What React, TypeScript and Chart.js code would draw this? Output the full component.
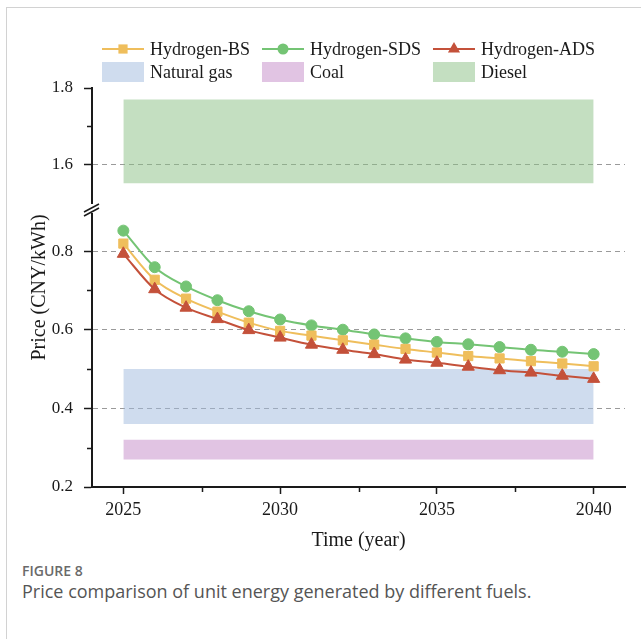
import React, { useEffect, useRef } from 'react';
import Chart from 'chart.js/auto';

// Years on the horizontal axis
const years = [2025, 2026, 2027, 2028, 2029, 2030, 2031, 2032, 2033, 2034, 2035, 2036, 2037, 2038, 2039, 2040];

// Hydrogen price scenarios (CNY/kWh)
const hydrogenBS = [0.819, 0.727, 0.679, 0.646, 0.618, 0.597, 0.585, 0.573, 0.562, 0.551, 0.542, 0.533, 0.527, 0.52, 0.514, 0.507];
const hydrogenSDS = [0.852, 0.759, 0.71, 0.675, 0.647, 0.626, 0.611, 0.6, 0.588, 0.578, 0.569, 0.563, 0.556, 0.549, 0.544, 0.538];
const hydrogenADS = [0.793, 0.703, 0.656, 0.627, 0.599, 0.58, 0.562, 0.549, 0.538, 0.524, 0.516, 0.506, 0.497, 0.491, 0.483, 0.475];

// Price ranges of conventional fuels: [low, high]
const bandYears = [2025, 2040];
const naturalGas = [0.36, 0.5];
const coal = [0.27, 0.32];
const diesel = [1.55, 1.77];

// Axis ranges and ticks (broken y axis: lower and upper segment)
const yearRange = [2024, 2041];
const yearTicks = [2025, 2030, 2035, 2040];
const yearMinorTicks = [2027.5, 2032.5, 2037.5];
const lowerRange = [0.2, 0.907];
const lowerTicks = [0.2, 0.4, 0.6, 0.8];
const lowerMinorTicks = [0.3, 0.5, 0.7];
const upperRange = [1.482, 1.8];
const upperTicks = [1.6, 1.8];
const upperMinorTicks = [1.7];

const SERIF = '"Liberation Serif", "Times New Roman", serif';
const INK = '#1a1a1a';
const C = {
  bs: '#efbe5c',
  sds: '#74c474',
  ads: '#c4513a',
  gas: 'rgba(159,185,221,0.5)',
  coal: 'rgba(195,137,199,0.5)',
  diesel: 'rgba(137,191,131,0.5)',
};

Chart.defaults.font.family = SERIF;
Chart.defaults.color = INK;

type LegendItem = { label: string; kind: 'line' | 'box'; color: string; marker?: string };
const legendRows: LegendItem[][] = [
  [
    { label: 'Hydrogen-BS', kind: 'line', color: C.bs, marker: 'rect' },
    { label: 'Hydrogen-SDS', kind: 'line', color: C.sds, marker: 'circle' },
    { label: 'Hydrogen-ADS', kind: 'line', color: C.ads, marker: 'triangle' },
  ],
  [
    { label: 'Natural gas', kind: 'box', color: C.gas },
    { label: 'Coal', kind: 'box', color: C.coal },
    { label: 'Diesel', kind: 'box', color: C.diesel },
  ],
];

function drawMarker(ctx: CanvasRenderingContext2D, style: string, x: number, y: number, r: number) {
  ctx.beginPath();
  if (style === 'rect') {
    const s = Math.SQRT1_2 * r;
    ctx.rect(x - s, y - s, 2 * s, 2 * s);
  } else if (style === 'circle') {
    ctx.arc(x, y, r, 0, Math.PI * 2);
  } else {
    let a = 0;
    ctx.moveTo(x + Math.sin(a) * r, y - Math.cos(a) * r);
    a += (2 * Math.PI) / 3;
    ctx.lineTo(x + Math.sin(a) * r, y - Math.cos(a) * r);
    a += (2 * Math.PI) / 3;
    ctx.lineTo(x + Math.sin(a) * r, y - Math.cos(a) * r);
    ctx.closePath();
  }
  ctx.fill();
}

const markerRadius: Record<string, number> = { rect: 6.5, circle: 5.5, triangle: 7 };

const decorations = {
  id: 'decorations',
  afterDraw(chart: any) {
    const { ctx, chartArea } = chart;
    const x = chart.scales.x;
    const yLo = chart.scales.yLo;
    const yHi = chart.scales.yHi;
    const axisX = yLo.right;

    ctx.save();
    // minor tick marks
    ctx.strokeStyle = INK;
    ctx.lineWidth = 1.5;
    ctx.beginPath();
    lowerMinorTicks.forEach((v) => {
      const py = Math.round(yLo.getPixelForValue(v)) + 0.5;
      ctx.moveTo(axisX - 5, py);
      ctx.lineTo(axisX, py);
    });
    upperMinorTicks.forEach((v) => {
      const py = Math.round(yHi.getPixelForValue(v)) + 0.5;
      ctx.moveTo(axisX - 5, py);
      ctx.lineTo(axisX, py);
    });
    yearMinorTicks.forEach((v) => {
      const px = Math.round(x.getPixelForValue(v)) + 0.5;
      ctx.moveTo(px, x.top);
      ctx.lineTo(px, x.top + 5);
    });
    ctx.stroke();

    // axis break between the two y segments
    const b = yHi.bottom;
    ctx.fillStyle = '#ffffff';
    ctx.fillRect(axisX - 3, b - 5, 6, 9);
    ctx.strokeStyle = INK;
    ctx.lineWidth = 1.5;
    ctx.beginPath();
    ctx.moveTo(axisX - 8, b + 3);
    ctx.lineTo(axisX + 7, b - 5);
    ctx.moveTo(axisX - 8, b + 7);
    ctx.lineTo(axisX + 7, b - 1);
    ctx.stroke();

    // y axis title spanning both segments
    ctx.fillStyle = INK;
    ctx.font = `20px ${SERIF}`;
    ctx.textAlign = 'center';
    ctx.textBaseline = 'middle';
    ctx.translate(40, (chartArea.top + chartArea.bottom) / 2);
    ctx.rotate(-Math.PI / 2);
    ctx.fillText('Price (CNY/kWh)', 0, 0);
    ctx.restore();

    // legend laid out in aligned columns
    ctx.save();
    ctx.font = `18px ${SERIF}`;
    ctx.textBaseline = 'middle';
    ctx.textAlign = 'left';
    const symW = 42;
    const gap = 6;
    const colW = [0, 1, 2].map(
      (c) => symW + gap + Math.max(...legendRows.map((r) => ctx.measureText(r[c].label).width)) + 12
    );
    const rowY = [49, 72];
    legendRows.forEach((row, ri) => {
      let cx = chartArea.left + 10;
      row.forEach((item, ci) => {
        const cy = rowY[ri];
        if (item.kind === 'line') {
          ctx.strokeStyle = item.color;
          ctx.lineWidth = 2;
          ctx.beginPath();
          ctx.moveTo(cx, cy);
          ctx.lineTo(cx + symW, cy);
          ctx.stroke();
          ctx.fillStyle = item.color;
          drawMarker(ctx, item.marker!, cx + symW / 2, cy, markerRadius[item.marker!]);
        } else {
          ctx.fillStyle = item.color;
          ctx.fillRect(cx, cy - 10, symW, 20);
        }
        ctx.fillStyle = INK;
        ctx.fillText(item.label, cx + symW + gap, cy + 1);
        cx += colW[ci];
      });
    });
    ctx.restore();
  },
};

function band(label: string, range: number[], color: string, axis: string) {
  return {
    type: 'line' as const,
    label,
    yAxisID: axis,
    data: bandYears.map((yr) => ({ x: yr, y: range[1] })),
    fill: { value: range[0] },
    backgroundColor: color,
    borderColor: 'transparent',
    borderWidth: 0,
    pointRadius: 0,
    tension: 0,
    order: 10,
  };
}

function series(label: string, values: number[], color: string, marker: string, order: number) {
  return {
    type: 'line' as const,
    label,
    yAxisID: 'yLo',
    data: years.map((yr, i) => ({ x: yr, y: values[i] })),
    borderColor: color,
    backgroundColor: color,
    pointBackgroundColor: color,
    pointBorderColor: color,
    pointBorderWidth: 1,
    pointStyle: marker,
    pointRadius: markerRadius[marker],
    borderWidth: 2,
    cubicInterpolationMode: 'monotone' as const,
    fill: false,
    order,
  };
}

export default function App() {
  const canvasRef = useRef<HTMLCanvasElement | null>(null);

  useEffect(() => {
    if (!canvasRef.current) return;
    const yGrid = (keep: (v: number) => boolean) => ({
      color: (c: any) => (c.tick && keep(c.tick.value) ? '#9a9a9a' : 'transparent'),
      lineWidth: 1,
      tickColor: INK,
      tickWidth: 1.5,
      tickLength: 8,
    });
    const yTicks = () => ({
      callback: (v: any) => Number(v).toFixed(1),
      font: { size: 17, family: SERIF },
      color: INK,
      padding: 11,
      autoSkip: false,
    });
    const chart = new Chart(canvasRef.current, {
      type: 'line',
      data: {
        datasets: [
          series('Hydrogen-ADS', hydrogenADS, C.ads, 'triangle', 0),
          series('Hydrogen-BS', hydrogenBS, C.bs, 'rect', 1),
          series('Hydrogen-SDS', hydrogenSDS, C.sds, 'circle', 2),
          band('Natural gas', naturalGas, C.gas, 'yLo'),
          band('Coal', coal, C.coal, 'yLo'),
          band('Diesel', diesel, C.diesel, 'yHi'),
        ] as any,
      },
      options: {
        responsive: false,
        animation: false,
        events: [],
        font: { family: SERIF },
        layout: { padding: { top: 88, left: 0, right: 16, bottom: 0 } },
        plugins: { legend: { display: false }, tooltip: { enabled: false } },
        scales: {
          x: {
            type: 'linear',
            min: yearRange[0],
            max: yearRange[1],
            afterBuildTicks: (s: any) => {
              s.ticks = yearTicks.map((value) => ({ value }));
            },
            afterFit: (s: any) => {
              s.height = 73;
            },
            ticks: {
              callback: (v: any) => String(v),
              font: { size: 18, family: SERIF },
              color: INK,
              padding: 5,
              maxRotation: 0,
              autoSkip: false,
            },
            grid: { drawOnChartArea: false, tickLength: 7, tickColor: INK, tickWidth: 1.5, color: INK },
            border: { color: INK, width: 2 },
            title: {
              display: true,
              text: 'Time (year)',
              font: { size: 20, family: SERIF },
              color: INK,
              padding: { top: 0, bottom: 7 },
            },
          },
          yLo: {
            type: 'linear',
            position: 'left',
            stack: 'price',
            stackWeight: 278,
            min: lowerRange[0],
            max: lowerRange[1],
            afterBuildTicks: (s: any) => {
              s.ticks = lowerTicks.map((value) => ({ value }));
            },
            afterFit: (s: any) => {
              s.width = 92;
            },
            ticks: yTicks(),
            grid: yGrid((v) => v > 0.25),
            border: { color: INK, width: 2, dash: [5, 4] },
          },
          yHi: {
            type: 'linear',
            position: 'left',
            stack: 'price',
            stackWeight: 121,
            min: upperRange[0],
            max: upperRange[1],
            afterBuildTicks: (s: any) => {
              s.ticks = upperTicks.map((value) => ({ value }));
            },
            afterFit: (s: any) => {
              s.width = 92;
            },
            ticks: yTicks(),
            grid: yGrid((v) => v < 1.75),
            border: { color: INK, width: 2, dash: [5, 4] },
          },
        } as any,
      },
      plugins: [decorations],
    });
    return () => chart.destroy();
  }, []);

  return (
    <div
      style={{
        position: 'absolute',
        left: 0,
        top: 0,
        width: 641,
        height: 639,
        background: '#ffffff',
        overflow: 'hidden',
      }}
    >
      <div
        style={{
          position: 'absolute',
          left: 6,
          top: 7,
          width: 700,
          height: 700,
          border: '1px solid #d2d2d2',
        }}
      />
      <canvas ref={canvasRef} width={641} height={560} style={{ position: 'absolute', left: 0, top: 0 }} />
      <div
        style={{
          position: 'absolute',
          left: 22,
          top: 562,
          font: '600 14px "Open Sans", sans-serif',
          color: '#6a6a6a',
          lineHeight: '18px',
        }}
      >
        FIGURE 8
      </div>
      <div
        style={{
          position: 'absolute',
          left: 22,
          top: 579,
          font: '18px "Open Sans", sans-serif',
          color: '#555555',
          lineHeight: '24px',
          whiteSpace: 'nowrap',
        }}
      >
        Price comparison of unit energy generated by different fuels.
      </div>
    </div>
  );
}
